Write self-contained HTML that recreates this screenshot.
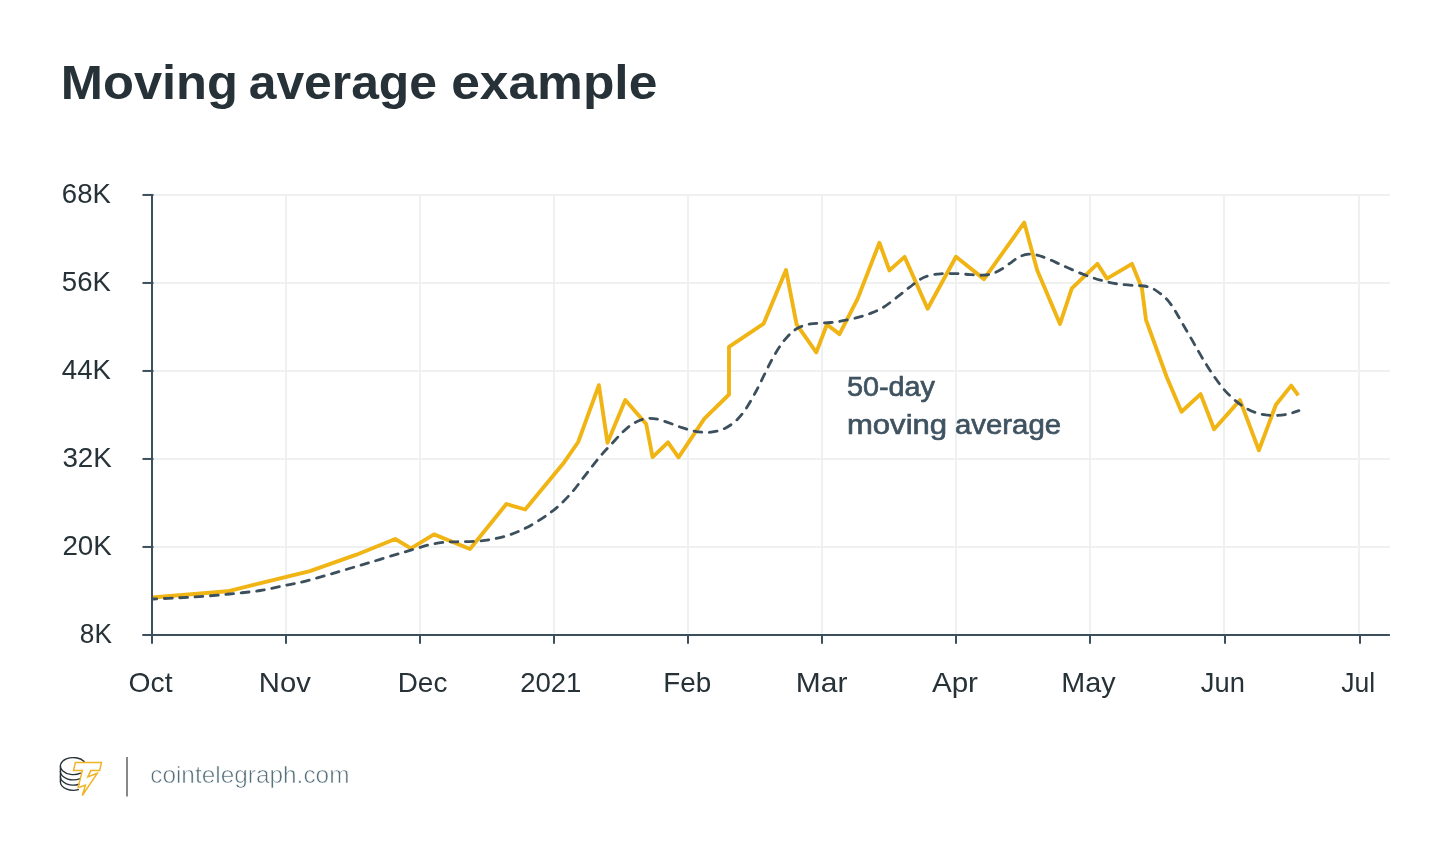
<!DOCTYPE html>
<html lang="en">
<head>
<meta charset="utf-8">
<title>Moving average example</title>
<style>
html,body{margin:0;padding:0;background:#fff;}
body{width:1450px;height:857px;overflow:hidden;}
svg{display:block;will-change:transform;}
text{font-family:"Liberation Sans",sans-serif;}
</style>
</head>
<body>
<svg width="1450" height="857" viewBox="0 0 1450 857">
<rect width="1450" height="857" fill="#ffffff"/>
<g font-weight="bold" font-size="49" fill="#263238">
<text id="t1" x="60.80" y="99.20" textLength="177.16" lengthAdjust="spacingAndGlyphs">Moving</text>
<text id="t2" x="248.70" y="99.20" textLength="188.27" lengthAdjust="spacingAndGlyphs">average</text>
<text id="t3" x="451.20" y="99.20" textLength="206.12" lengthAdjust="spacingAndGlyphs">example</text>
</g>
<g stroke="#eff0f0" stroke-width="2" fill="none">
<line x1="153.0" y1="194.95" x2="1389.9" y2="194.95"/>
<line x1="153.0" y1="282.95" x2="1389.9" y2="282.95"/>
<line x1="153.0" y1="370.95" x2="1389.9" y2="370.95"/>
<line x1="153.0" y1="458.95" x2="1389.9" y2="458.95"/>
<line x1="153.0" y1="546.95" x2="1389.9" y2="546.95"/>
<line x1="286.00" y1="193.9" x2="286.00" y2="635.0"/>
<line x1="420.00" y1="193.9" x2="420.00" y2="635.0"/>
<line x1="554.00" y1="193.9" x2="554.00" y2="635.0"/>
<line x1="688.00" y1="193.9" x2="688.00" y2="635.0"/>
<line x1="822.00" y1="193.9" x2="822.00" y2="635.0"/>
<line x1="956.00" y1="193.9" x2="956.00" y2="635.0"/>
<line x1="1090.00" y1="193.9" x2="1090.00" y2="635.0"/>
<line x1="1224.00" y1="193.9" x2="1224.00" y2="635.0"/>
<line x1="1359.05" y1="193.9" x2="1359.05" y2="635.0"/>
</g>
<g font-size="28" fill="#263238">
<text id="y0" x="61.80" y="202.95" textLength="49.08" lengthAdjust="spacingAndGlyphs">68K</text>
<text id="y1" x="61.80" y="290.95" textLength="49.12" lengthAdjust="spacingAndGlyphs">56K</text>
<text id="y2" x="61.80" y="378.95" textLength="49.10" lengthAdjust="spacingAndGlyphs">44K</text>
<text id="y3" x="62.40" y="466.95" textLength="49.47" lengthAdjust="spacingAndGlyphs">32K</text>
<text id="y4" x="62.40" y="554.95" textLength="49.46" lengthAdjust="spacingAndGlyphs">20K</text>
<text id="y5" x="79.80" y="642.95" textLength="32.11" lengthAdjust="spacingAndGlyphs">8K</text>
</g>
<g font-size="28" fill="#263238">
<text id="x0" x="128.60" y="692.00" textLength="43.97" lengthAdjust="spacingAndGlyphs">Oct</text>
<text id="x1" x="258.85" y="692.00" textLength="52.04" lengthAdjust="spacingAndGlyphs">Nov</text>
<text id="x2" x="397.70" y="692.00" textLength="49.67" lengthAdjust="spacingAndGlyphs">Dec</text>
<text id="x3" x="520.15" y="692.00" textLength="61.26" lengthAdjust="spacingAndGlyphs">2021</text>
<text id="x4" x="663.20" y="692.00" textLength="47.98" lengthAdjust="spacingAndGlyphs">Feb</text>
<text id="x5" x="795.85" y="692.00" textLength="51.63" lengthAdjust="spacingAndGlyphs">Mar</text>
<text id="x6" x="931.90" y="692.00" textLength="46.09" lengthAdjust="spacingAndGlyphs">Apr</text>
<text id="x7" x="1061.35" y="692.00" textLength="54.25" lengthAdjust="spacingAndGlyphs">May</text>
<text id="x8" x="1200.80" y="692.00" textLength="44.07" lengthAdjust="spacingAndGlyphs">Jun</text>
<text id="x9" x="1341.25" y="692.00" textLength="33.93" lengthAdjust="spacingAndGlyphs">Jul</text>
</g>
<polyline points="152.0,597.5 227.6,591.3 309.9,571.2 356.5,554.7 395.2,539.0 411.0,548.4 434.0,534.4 470.0,549.0 506.4,504.0 525.2,509.5 563.4,463.3 578.2,442.0 598.9,385.2 607.5,442.7 625.3,400.0 646.2,424.0 652.6,457.2 668.0,442.3 678.5,457.3 704.4,418.6 729.0,394.5 729.0,346.8 763.7,323.6 786.0,270.0 796.6,324.4 816.3,352.4 826.9,324.5 839.5,334.1 857.7,298.6 879.4,242.7 889.4,270.4 904.6,256.9 927.6,308.8 956.0,256.8 984.0,279.1 1024.2,222.6 1037.2,270.2 1060.0,324.0 1071.8,288.3 1097.4,263.8 1107.0,278.6 1132.0,263.9 1141.9,288.3 1146.0,319.8 1166.7,377.0 1181.5,411.8 1200.6,394.1 1214.1,429.2 1240.0,400.1 1258.9,450.3 1275.9,404.8 1291.2,385.6 1298.3,395.3" fill="none" stroke="#f0b414" stroke-width="3.9" stroke-linejoin="round" stroke-linecap="butt"/>
<path d="M153.4,599.0 C157.0,598.8 167.3,598.4 175.0,598.0 C182.7,597.6 190.6,597.3 199.7,596.6 C208.8,595.9 219.4,595.0 229.5,594.0 C239.6,593.0 251.0,592.0 260.4,590.5 C269.8,589.0 278.2,586.8 285.8,585.2 C293.4,583.6 297.2,583.3 305.8,581.1 C314.4,578.9 326.8,575.2 337.3,572.1 C347.8,569.0 358.4,565.9 368.8,562.8 C379.2,559.7 392.0,555.7 399.8,553.4 C407.6,551.1 410.2,550.3 415.5,548.8 C420.8,547.3 426.1,545.4 431.3,544.3 C436.6,543.2 442.1,542.4 447.0,542.0 C451.9,541.6 455.9,541.9 461.0,541.7 C466.1,541.6 472.4,541.5 477.8,541.1 C483.2,540.7 488.1,540.1 493.2,539.1 C498.3,538.1 503.7,536.8 508.6,535.2 C513.5,533.6 517.9,531.8 522.6,529.6 C527.3,527.4 531.9,524.8 536.6,521.9 C541.3,519.0 546.4,515.6 550.6,512.5 C554.8,509.4 558.1,506.6 561.8,503.0 C565.5,499.4 569.5,495.2 573.0,491.1 C576.5,487.0 579.5,482.7 582.8,478.5 C586.1,474.3 589.5,469.8 592.6,465.8 C595.7,461.8 598.4,458.4 601.6,454.7 C604.8,451.0 608.6,447.1 612.0,443.5 C615.4,439.9 618.5,436.1 621.8,433.0 C625.1,429.9 628.3,426.8 631.6,424.6 C634.9,422.4 638.4,420.8 641.4,419.7 C644.4,418.6 646.8,418.3 649.8,418.3 C652.8,418.3 656.1,418.8 659.6,419.7 C663.1,420.6 667.1,422.2 670.8,423.5 C674.5,424.8 678.3,426.5 682.0,427.7 C685.7,428.9 689.7,430.1 693.2,430.9 C696.7,431.7 699.7,432.1 703.0,432.3 C706.3,432.5 709.3,432.5 712.8,431.9 C716.3,431.3 720.3,430.6 724.0,428.8 C727.7,427.1 731.6,424.6 735.2,421.4 C738.8,418.2 742.0,414.5 745.5,409.4 C749.0,404.3 753.0,396.9 756.2,391.0 C759.4,385.1 762.0,379.3 764.6,374.2 C767.2,369.1 769.0,364.9 771.6,360.2 C774.2,355.5 777.2,350.3 780.0,346.2 C782.8,342.1 785.6,338.6 788.4,335.7 C791.2,332.8 793.6,330.6 796.6,328.8 C799.6,327.0 803.3,325.5 806.6,324.6 C809.9,323.7 812.4,323.8 816.4,323.4 C820.4,323.0 826.0,322.9 830.4,322.5 C834.8,322.1 838.6,321.5 843.0,320.7 C847.4,319.9 852.5,318.9 857.0,317.7 C861.5,316.5 865.7,315.2 870.0,313.5 C874.3,311.8 878.5,310.3 883.0,307.6 C887.5,304.9 892.5,300.6 897.0,297.2 C901.5,293.8 905.7,290.2 909.7,287.1 C913.7,284.1 917.7,280.8 921.0,278.9 C924.3,277.0 926.1,276.4 929.4,275.5 C932.7,274.6 936.2,274.1 940.6,273.8 C945.0,273.5 951.1,273.5 956.0,273.6 C960.9,273.7 965.6,274.3 970.0,274.6 C974.4,274.9 978.9,275.4 982.6,275.2 C986.3,275.0 989.1,274.7 992.4,273.6 C995.7,272.5 998.9,270.8 1002.2,268.8 C1005.5,266.8 1009.0,263.9 1012.0,261.8 C1015.0,259.7 1017.6,257.6 1020.4,256.3 C1023.2,255.0 1026.0,254.4 1028.8,254.2 C1031.6,254.0 1033.9,254.3 1037.2,255.1 C1040.5,255.9 1044.4,257.4 1048.4,259.0 C1052.4,260.6 1056.5,262.7 1061.0,264.7 C1065.5,266.7 1070.4,269.0 1075.4,271.1 C1080.4,273.2 1085.9,275.4 1090.8,277.1 C1095.7,278.8 1100.1,280.1 1104.8,281.3 C1109.5,282.5 1113.9,283.4 1118.8,284.1 C1123.7,284.8 1130.0,285.2 1134.2,285.5 C1138.4,285.8 1141.0,285.5 1144.0,286.0 C1147.0,286.5 1149.6,287.1 1152.4,288.4 C1155.2,289.7 1158.2,291.9 1160.8,293.9 C1163.4,295.9 1165.5,297.7 1167.8,300.4 C1170.1,303.1 1172.5,306.5 1174.8,310.2 C1177.1,313.9 1179.2,318.0 1181.8,322.4 C1184.4,326.8 1187.4,331.9 1190.2,336.8 C1193.0,341.7 1196.0,347.0 1198.8,351.9 C1201.6,356.8 1204.4,361.5 1207.2,365.9 C1210.0,370.3 1212.6,374.3 1215.6,378.5 C1218.6,382.7 1221.9,387.2 1225.4,391.1 C1228.9,395.0 1233.1,398.7 1236.6,401.6 C1240.1,404.5 1243.1,406.5 1246.4,408.4 C1249.7,410.3 1252.9,411.7 1256.2,412.8 C1259.5,413.9 1262.5,414.4 1266.0,414.9 C1269.5,415.3 1273.5,415.7 1277.2,415.5 C1280.9,415.3 1284.8,414.7 1288.4,413.9 C1292.0,413.1 1297.2,411.2 1298.9,410.7" fill="none" stroke="#3b4f5c" stroke-width="2.8" stroke-dasharray="7.8 7.6" stroke-dashoffset="4.4" stroke-linecap="round"/>
<g stroke="#3b4f5c" stroke-width="2" fill="none">
<line x1="152.0" y1="193.95" x2="152.0" y2="635.95"/>
<line x1="142.3" y1="634.95" x2="1389.9" y2="634.95"/>
<line x1="142.5" y1="194.95" x2="153.5" y2="194.95"/>
<line x1="142.5" y1="282.95" x2="153.5" y2="282.95"/>
<line x1="142.5" y1="370.95" x2="153.5" y2="370.95"/>
<line x1="142.5" y1="458.95" x2="153.5" y2="458.95"/>
<line x1="142.5" y1="546.95" x2="153.5" y2="546.95"/>
<line x1="152.00" y1="634.95" x2="152.00" y2="643.80"/>
<line x1="286.00" y1="634.95" x2="286.00" y2="643.80"/>
<line x1="420.00" y1="634.95" x2="420.00" y2="643.80"/>
<line x1="554.00" y1="634.95" x2="554.00" y2="643.80"/>
<line x1="688.00" y1="634.95" x2="688.00" y2="643.80"/>
<line x1="822.00" y1="634.95" x2="822.00" y2="643.80"/>
<line x1="956.00" y1="634.95" x2="956.00" y2="643.80"/>
<line x1="1090.00" y1="634.95" x2="1090.00" y2="643.80"/>
<line x1="1225.00" y1="634.95" x2="1225.00" y2="643.80"/>
<line x1="1360.00" y1="634.95" x2="1360.00" y2="643.80"/>
</g>
<g font-size="27" fill="#3e5260" stroke="#3e5260" stroke-width="0.65">
<text id="a1" x="847.00" y="395.70" textLength="87.98" lengthAdjust="spacingAndGlyphs">50-day</text>
<text id="a2" x="847.00" y="433.80" textLength="100.07" lengthAdjust="spacingAndGlyphs">moving</text>
<text id="a3" x="955.00" y="433.80" textLength="106.04" lengthAdjust="spacingAndGlyphs">average</text>
</g>
<g fill="none" stroke="#263238" stroke-width="1.35" stroke-linecap="round">
<path d="M84.17,761.52 A12.9,8.5 0 1 0 80.51,773.15"/>
<path d="M60.40,766.10 V781.85"/>
<path d="M60.40,771.35 A12.9,8.5 0 0 0 80.20,778.53"/>
<path d="M60.40,776.60 A12.9,8.5 0 0 0 78.90,784.26"/>
<path d="M60.40,781.85 A12.9,8.5 0 0 0 78.40,789.66"/>
</g>
<path d="M75.4,762.4 L101.5,762.4 L99.6,770.6 L90.8,770.6 L87.8,777 L97.2,773.4 L82.3,795.5 L85.4,785.2 L78.1,787.6 L82.3,770.6 L73.5,770.4 Z" fill="none" stroke="#f0b323" stroke-width="1.5" stroke-linejoin="miter"/>
<line x1="127" y1="757" x2="127" y2="796.4" stroke="#6b6b6b" stroke-width="1.6"/>
<g font-size="24" fill="#546e7a" stroke="#ffffff" stroke-width="0.6">
<text id="ft" x="150.20" y="783.00" textLength="199.28" lengthAdjust="spacingAndGlyphs">cointelegraph.com</text>
</g>
</svg>
</body>
</html>
